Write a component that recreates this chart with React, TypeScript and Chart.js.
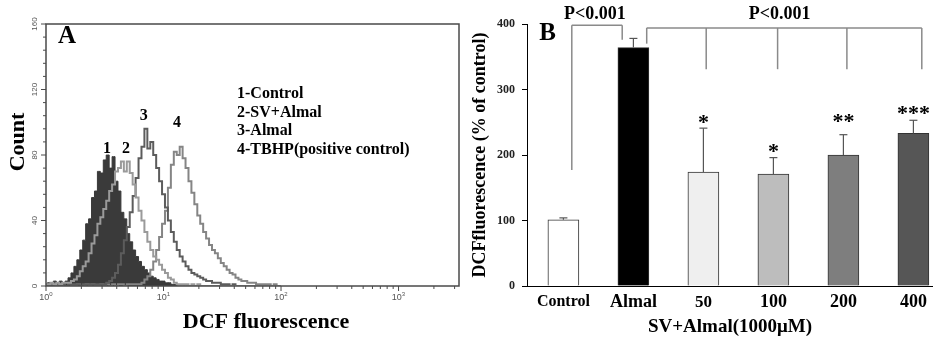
import React, { useEffect, useRef } from 'react';
import { Chart, registerables } from 'chart.js';

Chart.register(...registerables);

const SERIF = '"Liberation Serif", "Times New Roman", serif';
const SANS = '"Liberation Sans", Arial, sans-serif';

// ---------------- Panel A: DCF fluorescence histograms ----------------
const BIN_CENTERS = [
  1.000, 1.059, 1.122, 1.189, 1.259, 1.334, 1.413, 1.496, 1.585, 1.679,
  1.778, 1.884, 1.995, 2.113, 2.239, 2.371, 2.512, 2.661, 2.818, 2.985,
  3.162, 3.350, 3.548, 3.758, 3.981, 4.217, 4.467, 4.732, 5.012, 5.309,
  5.623, 5.957, 6.310, 6.683, 7.079, 7.499, 7.943, 8.414, 8.913, 9.441,
  10.00, 10.59, 11.22, 11.89, 12.59, 13.34, 14.13, 14.96, 15.85, 16.79,
  17.78, 18.84, 19.95, 21.13, 22.39, 23.71, 25.12, 26.61, 28.18, 29.85,
  31.62, 33.50, 35.48, 37.58, 39.81, 42.17, 44.67, 47.32, 50.12, 53.09,
  56.23, 59.57, 63.10, 66.83, 70.79, 74.99, 79.43, 84.14, 89.13, 94.41, 100.0,
];
const COUNT_CONTROL = [
  1, 2, 2, 3, 2, 3, 2, 3, 5, 8,
  12, 16, 22, 28, 38, 41, 54, 58, 70, 69,
  77, 80, 72, 79, 64, 58, 45, 41, 32, 27,
  22, 18, 15, 12, 10, 8, 6, 5, 4, 3,
  3, 2, 2, 1, 1, 0, 0, 0, 0, 0,
  0, 0, 0, 0, 0, 0, 0, 0, 0, 0,
  0, 0, 0, 0, 0, 0, 0, 0, 0, 0,
  0, 0, 0, 0, 0, 0, 0, 0, 0, 0, 0,
];
const COUNT_SV_ALMAL = [
  1, 1, 2, 1, 2, 1, 2, 2, 2, 3,
  4, 6, 9, 12, 15, 20, 26, 31, 38, 42,
  47, 52, 58, 62, 70, 72, 76, 70, 76, 69,
  62, 54, 46, 40, 33, 27, 22, 18, 16, 13,
  10, 8, 5, 4, 2, 1, 1, 1, 1, 0,
  1, 0, 1, 0, 0, 0, 0, 0, 0, 0,
  0, 0, 0, 0, 0, 0, 0, 0, 0, 0,
  0, 0, 0, 0, 0, 0, 0, 0, 0, 0, 0,
];
const COUNT_ALMAL = [
  0, 1, 0, 1, 1, 0, 1, 0, 1, 1,
  1, 1, 0, 1, 1, 1, 1, 1, 1, 1,
  1, 2, 3, 5, 8, 13, 20, 28, 36, 45,
  55, 66, 78, 85, 96, 84, 88, 80, 72, 64,
  56, 48, 40, 33, 27, 22, 18, 15, 12, 10,
  8, 7, 6, 5, 4, 3, 3, 2, 2, 2,
  1, 1, 1, 0, 1, 0, 0, 0, 0, 0,
  0, 0, 0, 0, 0, 0, 0, 0, 0, 0, 0,
];
const COUNT_TBHP = [
  0, 0, 1, 0, 0, 1, 0, 0, 1, 0,
  0, 1, 0, 0, 1, 0, 1, 0, 0, 1,
  0, 1, 0, 1, 0, 1, 1, 0, 1, 1,
  1, 1, 1, 2, 4, 6, 10, 15, 22, 30,
  38, 46, 60, 74, 82, 80, 85, 78, 72, 64,
  57, 50, 43, 38, 33, 29, 25, 22, 20, 17,
  14, 12, 10, 8, 7, 5, 4, 3, 3, 2,
  2, 2, 1, 1, 1, 1, 1, 0, 1, 0, 0,
];
const A_X_MIN = 1;
const A_X_MAX = 3270;
const A_Y_MAX = 160;
const A_Y_TICKS = [0, 40, 80, 120, 160];
const A_Y_MINOR_STEP = 8;
const A_X_DECADES = [1, 10, 100, 1000];
const A_X_EXPONENTS = ['0', '1', '2', '3'];
const A_LEGEND = ['1-Control', '2-SV+Almal', '3-Almal', '4-TBHP(positive control)'];
const A_PEAK_LABELS = ['1', '2', '3', '4'];
const A_PEAK_X = [3.3, 4.8, 6.8, 13.0];
const A_PEAK_Y = [84, 84, 104, 99.5];

// ---------------- Panel B: bar chart ----------------
const B_CATEGORIES = ['Control', 'Almal', '50', '100', '200', '400'];
const B_VALUES = [101, 364, 174, 171, 200, 233];
const B_ERRORS = [3, 14, 67, 25, 31, 20];
const B_COLORS = ['#ffffff', '#000000', '#efefef', '#bdbdbd', '#7e7e7e', '#565656'];
const B_TICK_SIZES = [16, 18, 17, 18, 18, 18];
const B_STARS = ['', '', '*', '*', '**', '***'];
const B_STAR_Y = [0, 0, 256, 212, 258, 269];
const B_Y_MAX = 400;
const B_Y_STEP = 100;
// significance brackets (data units)
const BR1_X = [0.12, 0.84];
const BR1_TOP = 398;
const BR1_DROP = [177, 376];
const BR2_LEFT_X = 1.19;
const BR2_LEFT_DROP = 370;
const BR2_X = [2.04, 3.06, 4.05, 5.12];
const BR2_TOP = 394;
const BR2_DROP = 331;
const P_TEXT = ['P<0.001', 'P<0.001'];
const P_X = [0.45, 3.09];
const P_Y = 414;

function line(ctx: CanvasRenderingContext2D, x1: number, y1: number, x2: number, y2: number) {
  ctx.beginPath();
  ctx.moveTo(x1, y1);
  ctx.lineTo(x2, y2);
  ctx.stroke();
}

const panelAPlugin = {
  id: 'panelADecor',
  afterDraw(chart: any) {
    const { ctx, chartArea: ca } = chart;
    const xs = chart.scales.x;
    const ys = chart.scales.y;
    ctx.save();
    // frame
    ctx.strokeStyle = '#4a4a4a';
    ctx.lineWidth = 1.5;
    ctx.strokeRect(ca.left, ca.top, ca.right - ca.left, ca.bottom - ca.top);
    // left ticks
    ctx.lineWidth = 1;
    for (let v = 0; v <= A_Y_MAX; v += A_Y_MINOR_STEP) {
      const y = ys.getPixelForValue(v);
      const len = A_Y_TICKS.includes(v) ? 5 : 3;
      line(ctx, ca.left - len, y, ca.left, y);
    }
    // bottom log ticks
    A_X_DECADES.forEach((d) => {
      for (let m = 1; m <= 9; m++) {
        const v = m * d;
        if (v > A_X_MAX) break;
        const x = xs.getPixelForValue(v);
        const len = m === 1 ? 5 : 3;
        line(ctx, x, ca.bottom, x, ca.bottom + len);
      }
    });
    // y tick labels (rotated)
    ctx.fillStyle = '#555';
    ctx.font = `8px ${SANS}`;
    ctx.textAlign = 'center';
    ctx.textBaseline = 'middle';
    A_Y_TICKS.forEach((v) => {
      const y = ys.getPixelForValue(v);
      ctx.save();
      ctx.translate(35, y);
      ctx.rotate(-Math.PI / 2);
      ctx.fillText(String(v), 0, 0);
      ctx.restore();
    });
    // x tick labels 10^n
    A_X_DECADES.forEach((d, i) => {
      const x = xs.getPixelForValue(d);
      ctx.font = `9px ${SANS}`;
      const w1 = ctx.measureText('10').width;
      ctx.font = `6px ${SANS}`;
      const w2 = ctx.measureText(A_X_EXPONENTS[i]).width;
      const start = x - (w1 + w2) / 2;
      ctx.textAlign = 'left';
      ctx.font = `9px ${SANS}`;
      ctx.fillText('10', start, 298);
      ctx.font = `6px ${SANS}`;
      ctx.fillText(A_X_EXPONENTS[i], start + w1, 294.5);
    });
    // peak labels
    ctx.fillStyle = '#000';
    ctx.font = `bold 16px ${SERIF}`;
    ctx.textAlign = 'center';
    ctx.textBaseline = 'middle';
    A_PEAK_LABELS.forEach((t, i) => {
      ctx.fillText(t, xs.getPixelForValue(A_PEAK_X[i]), ys.getPixelForValue(A_PEAK_Y[i]));
    });
    // legend text
    ctx.textAlign = 'left';
    const legendY = [94, 112.5, 131, 149.5];
    A_LEGEND.forEach((t, i) => ctx.fillText(t, 237, legendY[i]));
    // panel letter
    ctx.font = `bold 25px ${SERIF}`;
    ctx.textAlign = 'center';
    ctx.fillText('A', 67, 37);
    // axis titles
    ctx.font = `bold 22px ${SERIF}`;
    ctx.fillText('DCF fluorescence', 266, 322);
    ctx.save();
    ctx.translate(18, 142);
    ctx.rotate(-Math.PI / 2);
    ctx.fillText('Count', 0, 0);
    ctx.restore();
    ctx.restore();
  },
};

const panelBPlugin = {
  id: 'panelBDecor',
  afterDatasetsDraw(chart: any) {
    const { ctx } = chart;
    const xs = chart.scales.x;
    const ys = chart.scales.y;
    ctx.save();
    ctx.strokeStyle = '#555';
    ctx.lineWidth = 1.2;
    B_VALUES.forEach((v, i) => {
      const x = xs.getPixelForValue(i);
      const y0 = ys.getPixelForValue(v);
      const y1 = ys.getPixelForValue(v + B_ERRORS[i]);
      line(ctx, x, y0, x, y1);
      line(ctx, x - 4, y1, x + 4, y1);
    });
    ctx.restore();
  },
  afterDraw(chart: any) {
    const { ctx } = chart;
    const xs = chart.scales.x;
    const ys = chart.scales.y;
    const px = (v: number) => xs.getPixelForValue(v);
    const py = (v: number) => ys.getPixelForValue(v);
    ctx.save();
    ctx.strokeStyle = '#8a8a8a';
    ctx.lineWidth = 1.5;
    // bracket 1
    line(ctx, px(BR1_X[0]), py(BR1_TOP), px(BR1_X[1]), py(BR1_TOP));
    line(ctx, px(BR1_X[0]), py(BR1_TOP), px(BR1_X[0]), py(BR1_DROP[0]));
    line(ctx, px(BR1_X[1]), py(BR1_TOP), px(BR1_X[1]), py(BR1_DROP[1]));
    // bracket 2
    const last = BR2_X[BR2_X.length - 1];
    line(ctx, px(BR2_LEFT_X), py(BR2_TOP), px(last), py(BR2_TOP));
    line(ctx, px(BR2_LEFT_X), py(BR2_TOP), px(BR2_LEFT_X), py(BR2_LEFT_DROP));
    BR2_X.forEach((x) => line(ctx, px(x), py(BR2_TOP), px(x), py(BR2_DROP)));
    // P labels
    ctx.fillStyle = '#000';
    ctx.font = `bold 18px ${SERIF}`;
    ctx.textAlign = 'center';
    ctx.textBaseline = 'middle';
    P_TEXT.forEach((t, i) => ctx.fillText(t, px(P_X[i]), py(P_Y)));
    // stars
    ctx.font = `bold 22px ${SERIF}`;
    ctx.textBaseline = 'alphabetic';
    B_STARS.forEach((s, i) => {
      if (!s) return;
      ctx.fillText(s, px(i), py(B_STAR_Y[i]) + 10.5);
    });
    // panel letter
    ctx.font = `bold 25px ${SERIF}`;
    ctx.textBaseline = 'middle';
    ctx.fillText('B', 85.5, 34);
    ctx.restore();
  },
};

export default function App() {
  const refA = useRef<HTMLCanvasElement>(null);
  const refB = useRef<HTMLCanvasElement>(null);

  useEffect(() => {
    document.body.style.margin = '0';
    const mk = (counts: number[]) => counts.map((y, i) => ({ x: BIN_CENTERS[i], y }));
    const common = { stepped: 'middle', pointRadius: 0, tension: 0 } as any;
    const chartA = new Chart(refA.current as HTMLCanvasElement, {
      type: 'line',
      data: {
        datasets: [
          { ...common, label: '1-Control', data: mk(COUNT_CONTROL), borderColor: '#3a3a3a', backgroundColor: '#3a3a3a', fill: 'origin', borderWidth: 1, order: 4 },
          { ...common, label: '2-SV+Almal', data: mk(COUNT_SV_ALMAL), borderColor: '#9a9a9a', fill: false, borderWidth: 2, order: 1 },
          { ...common, label: '3-Almal', data: mk(COUNT_ALMAL), borderColor: '#5c5c5c', fill: false, borderWidth: 2, order: 2 },
          { ...common, label: '4-TBHP(positive control)', data: mk(COUNT_TBHP), borderColor: '#858585', fill: false, borderWidth: 2, order: 3 },
        ],
      },
      options: {
        animation: false,
        responsive: false,
        devicePixelRatio: 1,
        layout: { padding: { left: 46, top: 24, right: 3, bottom: 56 } },
        plugins: { legend: { display: false }, tooltip: { enabled: false } },
        events: [],
        scales: {
          x: { type: 'logarithmic', min: A_X_MIN, max: A_X_MAX, display: false },
          y: { type: 'linear', min: 0, max: A_Y_MAX, display: false },
        },
      },
      plugins: [panelAPlugin],
    } as any);

    const chartB = new Chart(refB.current as HTMLCanvasElement, {
      type: 'bar',
      data: {
        datasets: [
          {
            label: 'DCF fluorescence',
            data: B_VALUES.map((y, i) => ({ x: i, y })),
            backgroundColor: B_COLORS,
            borderColor: '#333',
            borderWidth: 1,
            barThickness: 31,
          },
        ],
      },
      options: {
        animation: false,
        responsive: false,
        devicePixelRatio: 1,
        events: [],
        layout: { padding: { left: 0, top: 24, right: 0, bottom: 0 } },
        plugins: { legend: { display: false }, tooltip: { enabled: false } },
        scales: {
          x: {
            type: 'linear',
            min: -0.52,
            max: 5.28,
            offset: false,
            grid: { display: false, drawTicks: false, offset: false },
            border: { display: true, color: '#000', width: 1 },
            afterBuildTicks: (s: any) => {
              s.ticks = B_CATEGORIES.map((_, i) => ({ value: i }));
            },
            afterFit: (s: any) => {
              s.height = 56;
            },
            ticks: {
              autoSkip: false,
              maxRotation: 0,
              padding: 6,
              color: '#000',
              font: (c: any) => ({ family: SERIF, weight: 'bold', size: B_TICK_SIZES[c.index] ?? 16 }),
              callback: (v: any) => B_CATEGORIES[v] ?? '',
            },
            title: {
              display: true,
              text: 'SV+Almal(1000\u03bcM)',
              color: '#000',
              font: { family: SERIF, weight: 'bold', size: 19 },
              padding: { top: 0, bottom: 4 },
            },
          },
          y: {
            type: 'linear',
            min: 0,
            max: B_Y_MAX,
            ticks: {
              stepSize: B_Y_STEP,
              padding: 7,
              color: '#222',
              font: { family: SERIF, weight: 'bold', size: 12 },
            },
            grid: { display: true, drawOnChartArea: false, drawTicks: true, tickLength: 5, color: '#000' },
            border: { display: true, color: '#000', width: 1 },
            afterFit: (s: any) => {
              s.width = 65;
            },
            title: {
              display: true,
              text: 'DCFfluorescence (% of control)',
              color: '#000',
              font: { family: SERIF, weight: 'bold', size: 18 },
              padding: { top: 8, bottom: 0 },
            },
          },
        },
      },
      plugins: [panelBPlugin],
    } as any);

    return () => {
      chartA.destroy();
      chartB.destroy();
    };
  }, []);

  return (
    <div style={{ position: 'relative', width: 933, height: 342, overflow: 'hidden', background: '#fff' }}>
      <div style={{ position: 'absolute', left: 0, top: 0, width: 462, height: 342 }}>
        <canvas ref={refA} width={462} height={342} style={{ display: 'block' }} />
      </div>
      <div style={{ position: 'absolute', left: 462, top: 0, width: 471, height: 342 }}>
        <canvas ref={refB} width={471} height={342} style={{ display: 'block' }} />
      </div>
    </div>
  );
}
